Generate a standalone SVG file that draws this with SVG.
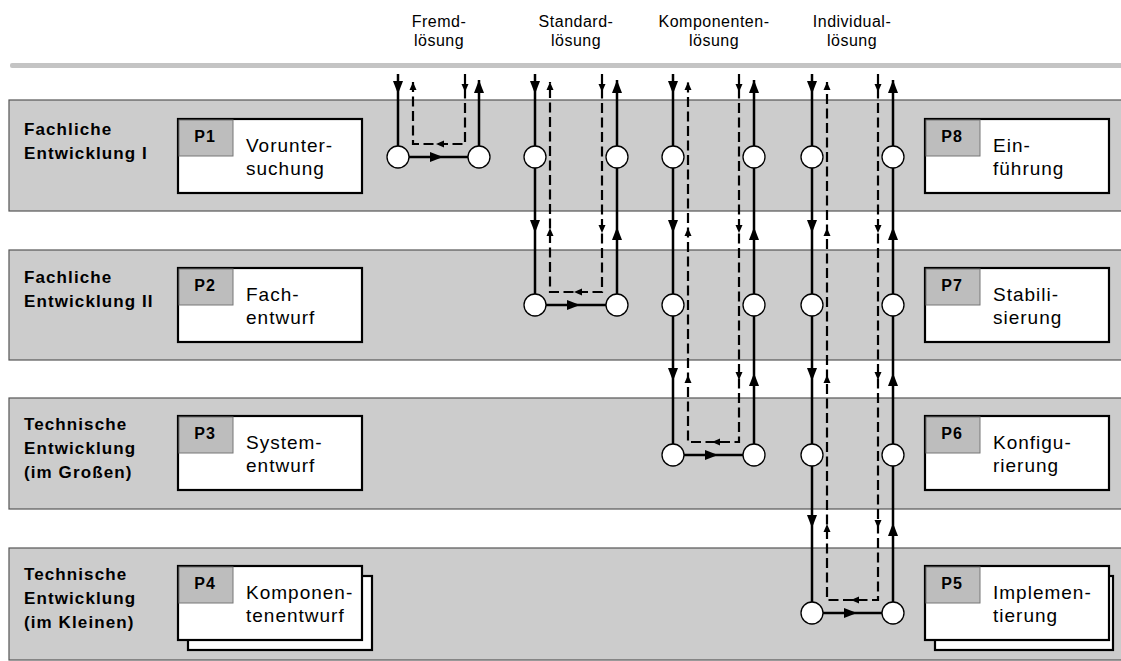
<svg xmlns="http://www.w3.org/2000/svg" width="1121" height="661" viewBox="0 0 1121 661">
  <style>
    .band { fill: #cccccc; stroke: #555555; stroke-width: 1.2; }
    .box { fill: #ffffff; stroke: #000000; stroke-width: 2.2; }
    .tag { fill: #bdbdbd; stroke: #777777; stroke-width: 1; }
    .lane { font-family: "Liberation Sans", Arial, sans-serif; font-size: 17px; font-weight: bold; letter-spacing: 1.1px; fill: #000; }
    .ptag { font-family: "Liberation Sans", Arial, sans-serif; font-size: 16px; font-weight: bold; letter-spacing: 0.9px; fill: #000; text-anchor: middle; }
    .ptxt { font-family: "Liberation Sans", Arial, sans-serif; font-size: 19px; letter-spacing: 1px; fill: #000; }
    .head { font-family: "Liberation Sans", Arial, sans-serif; font-size: 16px; letter-spacing: 0.5px; fill: #000; text-anchor: middle; }
    .solid { fill: none; stroke: #000; stroke-width: 2.5; }
    .dash { fill: none; stroke: #000; stroke-width: 2.2; stroke-dasharray: 10 4.5; }
    .node { fill: #ffffff; stroke: #000; stroke-width: 1.3; }
  </style>
  <defs>
    <!-- arrowheads pointing down, tip at origin -->
    <path id="ah" d="M0,0 L-5,-13 L5,-13 Z" fill="#000"/>
    <path id="ahs" d="M0,0 L-3.5,-8 L3.5,-8 Z" fill="#000"/>
  </defs>

  <!-- column headings -->
  <g id="headings">
    <text class="head" x="439" y="27">Fremd-</text>
    <text class="head" x="439" y="46">lösung</text>
    <text class="head" x="576" y="27">Standard-</text>
    <text class="head" x="576" y="46">lösung</text>
    <text class="head" x="714" y="27">Komponenten-</text>
    <text class="head" x="714" y="46">lösung</text>
    <text class="head" x="852" y="27">Individual-</text>
    <text class="head" x="852" y="46">lösung</text>
  </g>

  <rect x="10" y="63" width="1115" height="5" rx="2" fill="#c4c4c4"/>

  <!-- swim lanes -->
  <g id="lane1">
    <rect class="band" x="9" y="100" width="1120" height="111"/>
    <text class="lane" x="24" y="135">Fachliche</text>
    <text class="lane" x="24" y="159">Entwicklung I</text>
  </g>
  <g id="lane2">
    <rect class="band" x="9" y="250" width="1120" height="110"/>
    <text class="lane" x="24" y="283">Fachliche</text>
    <text class="lane" x="24" y="307">Entwicklung II</text>
  </g>
  <g id="lane3">
    <rect class="band" x="9" y="398" width="1120" height="111"/>
    <text class="lane" x="24" y="430">Technische</text>
    <text class="lane" x="24" y="454">Entwicklung</text>
    <text class="lane" x="24" y="478">(im Großen)</text>
  </g>
  <g id="lane4">
    <rect class="band" x="9" y="548" width="1120" height="112"/>
    <text class="lane" x="24" y="580">Technische</text>
    <text class="lane" x="24" y="604">Entwicklung</text>
    <text class="lane" x="24" y="628">(im Kleinen)</text>
  </g>

  <!-- phase boxes -->
  <g id="P1">
    <rect class="box" x="178" y="119" width="184" height="74"/>
    <rect class="tag" x="179" y="120" width="54" height="36"/>
    <text class="ptag" x="205" y="142">P1</text>
    <text class="ptxt" x="246" y="152">Vorunter-</text>
    <text class="ptxt" x="246" y="175">suchung</text>
  </g>
  <g id="P2">
    <rect class="box" x="178" y="268" width="184" height="74"/>
    <rect class="tag" x="179" y="269" width="54" height="36"/>
    <text class="ptag" x="205" y="291">P2</text>
    <text class="ptxt" x="246" y="301">Fach-</text>
    <text class="ptxt" x="246" y="324">entwurf</text>
  </g>
  <g id="P3">
    <rect class="box" x="178" y="416" width="184" height="74"/>
    <rect class="tag" x="179" y="417" width="54" height="36"/>
    <text class="ptag" x="205" y="439">P3</text>
    <text class="ptxt" x="246" y="449">System-</text>
    <text class="ptxt" x="246" y="472">entwurf</text>
  </g>
  <g id="P4">
    <rect class="box" x="188" y="576" width="184" height="74"/>
    <rect class="box" x="178" y="566" width="184" height="74"/>
    <rect class="tag" x="179" y="567" width="54" height="36"/>
    <text class="ptag" x="205" y="589">P4</text>
    <text class="ptxt" x="246" y="599">Komponen-</text>
    <text class="ptxt" x="246" y="622">tenentwurf</text>
  </g>
  <g id="P5">
    <rect class="box" x="935" y="576" width="178" height="74"/>
    <rect class="box" x="925" y="566" width="184" height="74"/>
    <rect class="tag" x="926" y="567" width="54" height="36"/>
    <text class="ptag" x="952" y="589">P5</text>
    <text class="ptxt" x="993" y="599">Implemen-</text>
    <text class="ptxt" x="993" y="622">tierung</text>
  </g>
  <g id="P6">
    <rect class="box" x="925" y="416" width="184" height="74"/>
    <rect class="tag" x="926" y="417" width="54" height="36"/>
    <text class="ptag" x="952" y="439">P6</text>
    <text class="ptxt" x="993" y="449">Konfigu-</text>
    <text class="ptxt" x="993" y="472">rierung</text>
  </g>
  <g id="P7">
    <rect class="box" x="925" y="268" width="184" height="74"/>
    <rect class="tag" x="926" y="269" width="54" height="36"/>
    <text class="ptag" x="952" y="291">P7</text>
    <text class="ptxt" x="993" y="301">Stabili-</text>
    <text class="ptxt" x="993" y="324">sierung</text>
  </g>
  <g id="P8">
    <rect class="box" x="925" y="119" width="184" height="74"/>
    <rect class="tag" x="926" y="120" width="54" height="36"/>
    <text class="ptag" x="952" y="142">P8</text>
    <text class="ptxt" x="993" y="152">Ein-</text>
    <text class="ptxt" x="993" y="175">führung</text>
  </g>

  <!-- solution paths -->
  <g id="connectors">
    <!-- Fremdlösung -->
    <path class="solid" d="M398,74 V157 H479 V80"/>
    <path class="dash" d="M465,74 V144 H413 V82"/>
    <use href="#ah" transform="translate(398,94)"/>
    <use href="#ah" transform="translate(479,80) rotate(180)"/>
    <use href="#ah" transform="translate(443,157) rotate(-90)"/>
    <use href="#ahs" transform="translate(465,92)"/>
    <use href="#ahs" transform="translate(413,82) rotate(180)"/>
    <use href="#ahs" transform="translate(436,144) rotate(90)"/>

    <!-- Standardlösung -->
    <path class="solid" d="M535,74 V305 H617 V80"/>
    <path class="dash" d="M602,74 V292 H550 V82"/>
    <use href="#ah" transform="translate(535,94)"/>
    <use href="#ah" transform="translate(535,233)"/>
    <use href="#ah" transform="translate(617,80) rotate(180)"/>
    <use href="#ah" transform="translate(617,227) rotate(180)"/>
    <use href="#ah" transform="translate(580,305) rotate(-90)"/>
    <use href="#ahs" transform="translate(602,92)"/>
    <use href="#ahs" transform="translate(602,233)"/>
    <use href="#ahs" transform="translate(550,82) rotate(180)"/>
    <use href="#ahs" transform="translate(550,228) rotate(180)"/>
    <use href="#ahs" transform="translate(574,292) rotate(90)"/>

    <!-- Komponentenlösung -->
    <path class="solid" d="M673,74 V455 H754 V80"/>
    <path class="dash" d="M739,74 V442 H688 V82"/>
    <use href="#ah" transform="translate(673,94)"/>
    <use href="#ah" transform="translate(673,233)"/>
    <use href="#ah" transform="translate(673,381)"/>
    <use href="#ah" transform="translate(754,80) rotate(180)"/>
    <use href="#ah" transform="translate(754,227) rotate(180)"/>
    <use href="#ah" transform="translate(754,373) rotate(180)"/>
    <use href="#ah" transform="translate(718,455) rotate(-90)"/>
    <use href="#ahs" transform="translate(739,92)"/>
    <use href="#ahs" transform="translate(739,233)"/>
    <use href="#ahs" transform="translate(739,380)"/>
    <use href="#ahs" transform="translate(688,82) rotate(180)"/>
    <use href="#ahs" transform="translate(688,228) rotate(180)"/>
    <use href="#ahs" transform="translate(688,375) rotate(180)"/>
    <use href="#ahs" transform="translate(712,442) rotate(90)"/>

    <!-- Individuallösung -->
    <path class="solid" d="M812,74 V613 H893 V80"/>
    <path class="dash" d="M878,74 V600 H827 V82"/>
    <use href="#ah" transform="translate(812,94)"/>
    <use href="#ah" transform="translate(812,233)"/>
    <use href="#ah" transform="translate(812,381)"/>
    <use href="#ah" transform="translate(812,528)"/>
    <use href="#ah" transform="translate(893,80) rotate(180)"/>
    <use href="#ah" transform="translate(893,227) rotate(180)"/>
    <use href="#ah" transform="translate(893,373) rotate(180)"/>
    <use href="#ah" transform="translate(893,523) rotate(180)"/>
    <use href="#ah" transform="translate(857,613) rotate(-90)"/>
    <use href="#ahs" transform="translate(878,92)"/>
    <use href="#ahs" transform="translate(878,233)"/>
    <use href="#ahs" transform="translate(878,380)"/>
    <use href="#ahs" transform="translate(878,528)"/>
    <use href="#ahs" transform="translate(827,82) rotate(180)"/>
    <use href="#ahs" transform="translate(827,228) rotate(180)"/>
    <use href="#ahs" transform="translate(827,375) rotate(180)"/>
    <use href="#ahs" transform="translate(827,524) rotate(180)"/>
    <use href="#ahs" transform="translate(851,600) rotate(90)"/>
  </g>

  <!-- decision points -->
  <g id="points">
    <circle class="node" cx="398" cy="157" r="11"/>
    <circle class="node" cx="479" cy="157" r="11"/>
    <circle class="node" cx="535" cy="157" r="11"/>
    <circle class="node" cx="617" cy="157" r="11"/>
    <circle class="node" cx="673" cy="157" r="11"/>
    <circle class="node" cx="754" cy="157" r="11"/>
    <circle class="node" cx="812" cy="157" r="11"/>
    <circle class="node" cx="893" cy="157" r="11"/>
    <circle class="node" cx="535" cy="305" r="11"/>
    <circle class="node" cx="617" cy="305" r="11"/>
    <circle class="node" cx="673" cy="305" r="11"/>
    <circle class="node" cx="754" cy="305" r="11"/>
    <circle class="node" cx="812" cy="305" r="11"/>
    <circle class="node" cx="893" cy="305" r="11"/>
    <circle class="node" cx="673" cy="455" r="11"/>
    <circle class="node" cx="754" cy="455" r="11"/>
    <circle class="node" cx="812" cy="455" r="11"/>
    <circle class="node" cx="893" cy="455" r="11"/>
    <circle class="node" cx="812" cy="613" r="11"/>
    <circle class="node" cx="893" cy="613" r="11"/>
  </g>
</svg>
